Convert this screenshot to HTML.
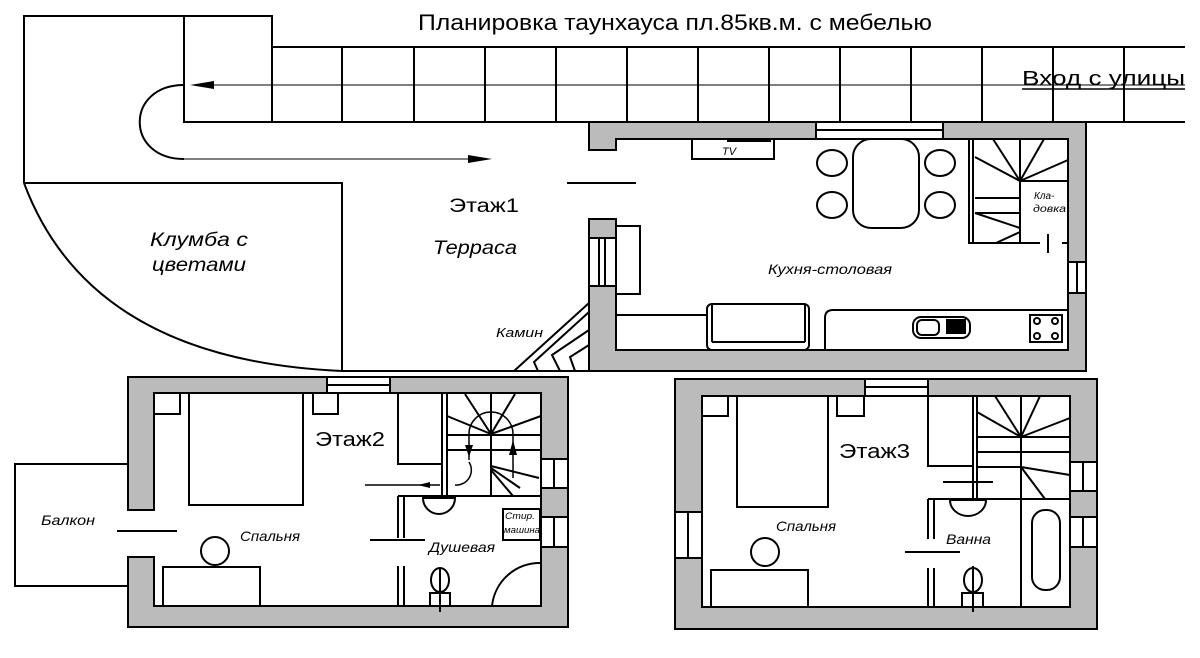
<!DOCTYPE html>
<html><head><meta charset="utf-8"><style>
html,body{margin:0;padding:0;background:#fff;}
svg{display:block}
text{font-family:"Liberation Sans",sans-serif;fill:#000}
.i{font-style:italic}
</style></head><body>
<svg width="1200" height="658" viewBox="0 0 1200 658" xmlns="http://www.w3.org/2000/svg">
<g fill="none" stroke="#000" stroke-width="2">
<path d="M24 183 V16 H272 V122 H184 V16"/>
<path d="M272 47 H1185 M272 122 H1185"/>
<path d="M342 47V122M414 47V122M485 47V122M556 47V122M627 47V122M698 47V122M769 47V122M840 47V122M911 47V122M982 47V122M1053 47V122M1124 47V122"/>
<path d="M24 183 H342 V371 H590"/>
<path d="M24 183 Q90 360 342 371"/>
<path d="M184 85 C125 85 125 159 184 159"/>
<path d="M567 183 H636"/>
</g>
<g stroke="#000" stroke-width="1" fill="none"><path d="M200 85 H1185 M184 159 H480"/></g>
<path d="M190 85 L214 81 L214 89Z M492 159 L468 155 L468 163Z" fill="#000"/>

<g fill="#bbb" stroke="#000" stroke-width="2">
<path d="M589 122 H816 V139 H616 V150 H589 Z"/>
<path d="M943 122 H1086 V262 H1068 V139 H943 Z"/>
<path d="M1068 293 H1086 V371 H589 V286 H616 V350 H1068 Z"/>
<rect x="589" y="219" width="27" height="19"/>
</g>
<g fill="none" stroke="#000" stroke-width="2">
<path d="M816 122H943V139H816ZM816 130H943"/>
<path d="M589 238H616V286H589ZM599 238V286M605 238V286"/>
<path d="M1068 262H1086V293H1068ZM1077 262V293"/>
<rect x="692" y="139" width="82" height="20"/>
<rect x="853" y="139" width="66" height="89" rx="18"/>
<ellipse cx="832" cy="163" rx="15" ry="13"/><ellipse cx="940" cy="163" rx="15" ry="13"/>
<ellipse cx="832" cy="205" rx="15" ry="13"/><ellipse cx="940" cy="205" rx="15" ry="13"/>
<rect x="616" y="226" width="24" height="68"/>
<rect x="707" y="304" width="102" height="46" rx="5"/><path d="M712 342H805M712 304V342M805 304V342"/>
<path d="M616 315H707"/>
<path d="M1068 310H833Q825 310 825 318V350"/>
<rect x="913" y="317" width="57" height="21" rx="8"/><rect x="917" y="320" width="22" height="15" rx="5"/>
<rect x="1030" y="315" width="32" height="27"/>
<circle cx="1037" cy="321" r="3"/><circle cx="1055" cy="321" r="3"/><circle cx="1037" cy="336" r="3"/><circle cx="1055" cy="336" r="3"/>
<path d="M969 139V243H1040M973 139V243M1020 139V243M1020 181H1068M975 198H1020M975 213H1020M1020 181L993 139M1020 181L1020 139M1020 181L1044 139M1020 181L1068 160M1020 181L975 157M1020 228L975 213M1020 232L996 243"/>
<path d="M1048 234V253M1062 243H1068"/>
<path d="M589 303L514 371M589 312L534 362L538 371M589 330L552 355L560 371M589 345L570 357L575 371"/>
</g>
<rect x="727" y="139" width="44" height="3" fill="#000"/>
<rect x="946" y="319" width="20" height="15" fill="#000"/>

<!-- floor 2 -->
<g fill="#bbb" stroke="#000" stroke-width="2">
<path d="M128 377H327V393H154V510H128Z"/>
<path d="M390 377H568V459H541V393H390Z"/>
<path d="M128 557H154V606H541V547H568V627H128Z"/>
<rect x="541" y="488" width="27" height="29"/>
</g>
<g fill="none" stroke="#000" stroke-width="2">
<path d="M327 377H390V393H327ZM327 385H390"/>
<path d="M541 459H568V488H541ZM554 459V488M541 517H568V547H541ZM554 517V547"/>
<path d="M128 464H15V586H128"/>
<path d="M117 531H177"/>
<rect x="189" y="393" width="114" height="112"/>
<rect x="154" y="393" width="26" height="21"/><rect x="313" y="393" width="25" height="21"/>
<rect x="398" y="393" width="44" height="71"/>
<path d="M442 393V496M447 393V496M447 435H541M447 450H541M491 393V496M491 434L465 394M491 434L515 394M491 434L541 416M491 434L447 416M491 466L539 478M491 470L513 496M491 468L520 488"/>
<path d="M469 460V434A22 22 0 0 1 513 434V478" stroke-width="1.5"/>
<path d="M455 485A15 15 0 0 0 469 462" stroke-width="1.5"/>
<path d="M365 485H440" stroke-width="1.5"/>
<path d="M398 496H541M398 496V538M404 496V538M398 566V606M404 566V606"/>
<path d="M370 540H425"/>
<path d="M423 498H455A16 16 0 0 1 423 498Z"/>
<ellipse cx="440" cy="580" rx="9" ry="12"/><rect x="430" y="593" width="20" height="13"/><path d="M440 568V612"/>
<rect x="503" y="509" width="37" height="31"/>
<path d="M492 606A48 48 0 0 1 541 563"/>
<circle cx="215" cy="551" r="14"/>
<rect x="163" y="567" width="97" height="39"/>
</g>
<path d="M513 440L509 455L517 455Z M469 457L465 445L473 445Z M418 485L430 482L430 488Z" fill="#000"/>

<!-- floor 3 -->
<g fill="#bbb" stroke="#000" stroke-width="2">
<path d="M675 379H865V396H702V512H675Z"/>
<path d="M928 379H1097V462H1070V396H928Z"/>
<path d="M675 558H702V607H1070V547H1097V629H675Z"/>
<rect x="1070" y="491" width="27" height="26"/>
</g>
<g fill="none" stroke="#000" stroke-width="2">
<path d="M865 379H928V396H865ZM865 387H928"/>
<path d="M675 512H702V558H675ZM688 512V558"/>
<path d="M1070 462H1097V491H1070ZM1083 462V491M1070 517H1097V547H1070ZM1083 517V547"/>
<rect x="737" y="396" width="91" height="111"/>
<rect x="702" y="396" width="26" height="20"/><rect x="837" y="396" width="27" height="20"/>
<rect x="928" y="396" width="45" height="70"/>
<path d="M973 396V499M977 396V499M977 437H1070M977 452H1070M1021 396V499M1021 437L995 396M1021 437L1040 396M1021 437L1070 418M1021 437L977 412M1021 467L1070 475M1021 467L1045 499M977 467H1021M1021 499H1070"/>
<path d="M928 499H1070M928 499V539M934 499V539M928 568V607M934 568V607M1021 499V607"/>
<rect x="1032" y="510" width="28" height="80" rx="13"/>
<path d="M905 552H960M943 482H993"/>
<path d="M950 500H986A18 16 0 0 1 950 500Z"/>
<ellipse cx="973" cy="580" rx="9" ry="12"/><rect x="962" y="593" width="21" height="14"/><path d="M973 566V612"/>
<rect x="711" y="570" width="97" height="37"/>
<circle cx="765" cy="552" r="14"/>
</g>

<text x="418" y="30" font-size="22" textLength="514" lengthAdjust="spacingAndGlyphs">Планировка таунхауса пл.85кв.м. с мебелью</text>
<text x="1022" y="85" font-size="20" textLength="163" lengthAdjust="spacingAndGlyphs">Вход с улицы</text>
<path d="M1022 89H1185" stroke="#000" stroke-width="1.5"/>
<text x="449" y="212" font-size="19" textLength="70" lengthAdjust="spacingAndGlyphs">Этаж1</text>
<text class="i" x="433" y="254" font-size="19" textLength="84" lengthAdjust="spacingAndGlyphs">Терраса</text>
<text class="i" x="150" y="246" font-size="19" textLength="98" lengthAdjust="spacingAndGlyphs">Клумба с</text>
<text class="i" x="152" y="271" font-size="19" textLength="94" lengthAdjust="spacingAndGlyphs">цветами</text>
<text class="i" x="496" y="337" font-size="13" textLength="47" lengthAdjust="spacingAndGlyphs">Камин</text>
<text class="i" x="768" y="274" font-size="14" textLength="124" lengthAdjust="spacingAndGlyphs">Кухня-столовая</text>
<text x="722" y="155" font-size="11" class="i">TV</text>
<text class="i" x="1034" y="199" font-size="10">Кла-</text>
<text class="i" x="1033" y="212" font-size="10" textLength="33" lengthAdjust="spacingAndGlyphs">довка</text>
<text x="315" y="446" font-size="20" textLength="70" lengthAdjust="spacingAndGlyphs">Этаж2</text>
<text class="i" x="41" y="525" font-size="14" textLength="54" lengthAdjust="spacingAndGlyphs">Балкон</text>
<text class="i" x="240" y="541" font-size="14" textLength="60" lengthAdjust="spacingAndGlyphs">Спальня</text>
<text class="i" x="429" y="552" font-size="14" textLength="66" lengthAdjust="spacingAndGlyphs">Душевая</text>
<text class="i" x="505" y="519" font-size="9" textLength="30" lengthAdjust="spacingAndGlyphs">Стир.</text>
<text class="i" x="504" y="533" font-size="9" textLength="36" lengthAdjust="spacingAndGlyphs">машина</text>
<text x="839" y="458" font-size="20" textLength="71" lengthAdjust="spacingAndGlyphs">Этаж3</text>
<text class="i" x="776" y="531" font-size="14" textLength="60" lengthAdjust="spacingAndGlyphs">Спальня</text>
<text class="i" x="946" y="544" font-size="14" textLength="45" lengthAdjust="spacingAndGlyphs">Ванна</text>
</svg>
</body></html>
